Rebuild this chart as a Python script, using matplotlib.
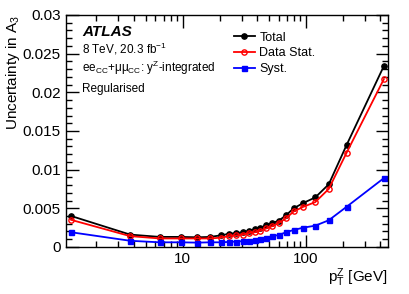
import matplotlib
matplotlib.use("Agg")
import matplotlib.pyplot as plt
from matplotlib.ticker import MultipleLocator, LogLocator, NullFormatter, FixedLocator, FixedFormatter

plt.rcParams['font.family'] = ['Liberation Sans', 'DejaVu Sans']
plt.rcParams['mathtext.fontset'] = 'custom'
plt.rcParams['mathtext.rm'] = 'Liberation Sans'
plt.rcParams['mathtext.it'] = 'Liberation Sans:italic'

pt = [1.25, 3.75, 6.5, 9.7, 13.15, 16.7, 20.25, 23.75, 27.25, 30.8, 34.5, 38.4,
      42.65, 47.55, 53.3, 60.15, 68.65, 79.4, 95.2, 118.5, 152.5, 213.0, 426.5]
total = [0.0040, 0.0016, 0.0013, 0.0013, 0.00125, 0.0013, 0.0015, 0.0017, 0.0018, 0.0019,
         0.0021, 0.0023, 0.0025, 0.0028, 0.0031, 0.0034, 0.0041, 0.0050, 0.0057, 0.0064,
         0.0081, 0.0132, 0.0234]
stat = [0.0035, 0.0014, 0.0011, 0.0011, 0.0011, 0.0011, 0.0012, 0.0014, 0.0015, 0.0016,
        0.0018, 0.0019, 0.0021, 0.0024, 0.0027, 0.0031, 0.0037, 0.0046, 0.0052, 0.0058,
        0.0075, 0.0122, 0.0217]
syst = [0.0019, 0.0008, 0.0006, 0.0006, 0.00056, 0.0006, 0.0006, 0.00065, 0.0007, 0.00075,
        0.0008, 0.0009, 0.0010, 0.0012, 0.0014, 0.00155, 0.0019, 0.0022, 0.0025, 0.00275,
        0.00345, 0.0052, 0.0089]

fig = plt.figure(figsize=(4.09, 2.94), dpi=100)
ax = fig.add_axes([0.161, 0.160, 0.788, 0.789])

ax.plot(pt, total, color='black', marker='o', ms=3.8, lw=1.3, label='Total')
ax.plot(pt, stat, color='#ff0000', marker='o', ms=3.8, mfc='none', mew=1.0, lw=1.3, label='Data Stat.')
ax.plot(pt, syst, color='#0000ff', marker='s', ms=3.6, lw=1.3, label='Syst.')

ax.set_xscale('log')
ax.set_xlim(1.13, 462)
ax.set_ylim(0, 0.03)

ax.yaxis.set_minor_locator(MultipleLocator(0.001))
ax.set_yticks([0, 0.005, 0.01, 0.015, 0.02, 0.025, 0.03])
ax.set_yticklabels(['0', '0.005', '0.01', '0.015', '0.02', '0.025', '0.03'])
ax.xaxis.set_major_locator(FixedLocator([10, 100]))
ax.xaxis.set_major_formatter(FixedFormatter(['10', '100']))
ax.xaxis.set_minor_locator(LogLocator(base=10, subs=range(2, 10)))
ax.xaxis.set_minor_formatter(NullFormatter())

ax.tick_params(which='both', direction='in', top=True, right=True, labelsize=11, width=1.0)
ax.tick_params(which='major', length=9)
ax.tick_params(which='minor', length=4.5)
for s in ax.spines.values():
    s.set_linewidth(1.0)

ax.set_ylabel('Uncertainty in A$_3$', fontsize=11, loc='top', labelpad=0.5)
ax.set_xlabel(r'p$_\mathrm{T}^\mathrm{Z}$ [GeV]', fontsize=11, loc='right', labelpad=0.5)

t = ax.transAxes
ax.text(0.05, 0.925, 'ATLAS', transform=t, fontsize=11, fontweight='bold', fontstyle='italic', va='center')
ax.text(0.05, 0.855, '8 TeV, 20.3 fb$^{-1}$', transform=t, fontsize=8.5, va='center')
ax.text(0.05, 0.77, r'ee$_\mathrm{CC}$+μμ$_\mathrm{CC}$: y$^\mathrm{Z}$-integrated', transform=t, fontsize=8.5, va='center')
ax.text(0.05, 0.68, 'Regularised', transform=t, fontsize=8.5, va='center')

leg = ax.legend(loc='upper left', bbox_to_anchor=(0.505, 0.95), frameon=False, fontsize=9,
                handlelength=1.7, handletextpad=0.35, labelspacing=0.3, borderaxespad=0)

fig.savefig('out.png', dpi=100)
